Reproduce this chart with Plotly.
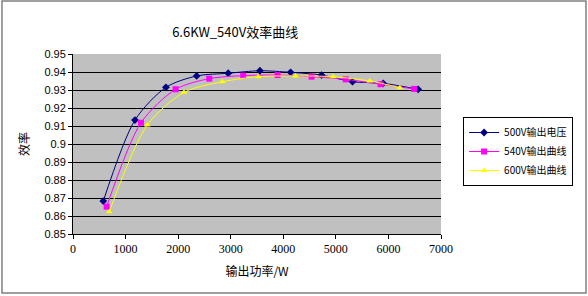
import plotly.graph_objects as go

x500 = [576, 1179, 1768, 2352, 2953, 3555, 4139, 4728, 5317, 5900, 6565]
y500 = [0.8683, 0.9133, 0.9315, 0.9378, 0.9393, 0.9407, 0.9398, 0.9383, 0.9346, 0.9337, 0.9304]
x540 = [640, 1293, 1952, 2592, 3238, 3891, 4538, 5190, 5850, 6489]
y540 = [0.8652, 0.9118, 0.9304, 0.9363, 0.9380, 0.9383, 0.9374, 0.9359, 0.9332, 0.9306]
x600 = [690, 1413, 2110, 2839, 3523, 4234, 4949, 5646, 6217]
y600 = [0.8624, 0.9106, 0.9287, 0.9346, 0.9374, 0.9378, 0.9374, 0.9350, 0.9313]

names = ["500V输出电压", "540V输出曲线", "600V输出曲线"]
xticks = [0, 1000, 2000, 3000, 4000, 5000, 6000, 7000]
yticks = [0.85, 0.86, 0.87, 0.88, 0.89, 0.90, 0.91, 0.92, 0.93, 0.94, 0.95]
ytext = ["0.85", "0.86", "0.87", "0.88", "0.89", "0.9", "0.91", "0.92", "0.93", "0.94", "0.95"]

fig = go.Figure()
series = [
    (x500, y500, names[0], "#000080", "diamond", 6),
    (x540, y540, names[1], "#ff00ff", "square", 6),
    (x600, y600, names[2], "#ffff00", "triangle-up", 6),
]
for xs, ys, nm, col, sym, sz in series:
    fig.add_trace(go.Scatter(
        x=xs, y=ys, name=nm, mode="lines+markers",
        line=dict(color=col, width=1, shape="spline", smoothing=0.8),
        marker=dict(color=col, symbol=sym, size=sz),
    ))

fig.update_layout(
    width=588, height=296,
    margin=dict(l=73, r=147, t=54, b=62),
    paper_bgcolor="white", plot_bgcolor="#c0c0c0",
    font=dict(family="Noto Sans CJK SC", size=11, color="black"),
    title=dict(text="6.6KW_540V效率曲线", x=0.4, xanchor="center", y=0.89, yanchor="middle",
               font=dict(family="Noto Sans CJK SC", size=13)),
    showlegend=True,
    legend=dict(x=1.06, y=0.65, xanchor="left", yanchor="top",
                bgcolor="white", bordercolor="black", borderwidth=1,
                font=dict(family="Noto Sans CJK SC", size=10), tracegroupgap=0),
    xaxis=dict(range=[0, 7000], tickvals=xticks, showgrid=False, zeroline=False,
               ticks="outside", ticklen=4, tickcolor="black",
               showline=True, linecolor="black", linewidth=1,
               tickfont=dict(family="Liberation Serif", size=12),
               title=dict(text="输出功率/W", font=dict(size=12), standoff=12)),
    yaxis=dict(range=[0.85, 0.95], tickvals=yticks, ticktext=ytext,
               showgrid=True, gridcolor="black", gridwidth=1, zeroline=False,
               ticks="outside", ticklen=4, tickcolor="black",
               showline=True, linecolor="black", linewidth=1,
               tickfont=dict(family="Liberation Sans", size=11),
               title=dict(text="效率", font=dict(size=12), standoff=12)),
)
fig.add_shape(type="rect", xref="paper", yref="paper",
              x0=-0.193, x1=1.394, y0=-0.328, y1=1.294,
              line=dict(color="#808080", width=1.5))
fig.write_html("out.html")
